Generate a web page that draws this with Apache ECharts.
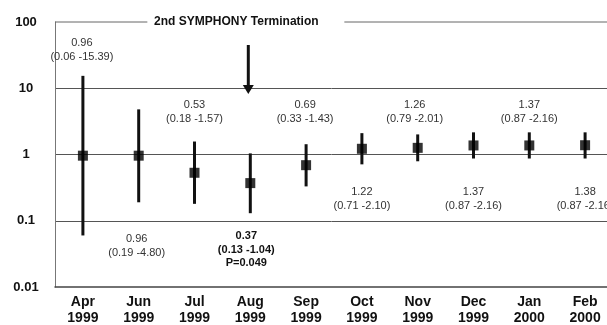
<!DOCTYPE html>
<html><head><meta charset="utf-8">
<script src="https://cdn.jsdelivr.net/npm/echarts@6/dist/echarts.min.js"></script>
<style>html,body{margin:0;padding:0;background:#fff}#c{width:607px;height:325px}</style>
</head><body><div id="c"></div>
<script>
// ---- data ----
const categories = ['Apr\n1999','Jun\n1999','Jul\n1999','Aug\n1999','Sep\n1999','Oct\n1999','Nov\n1999','Dec\n1999','Jan\n2000','Feb\n2000'];
const estimates = [0.96, 0.96, 0.53, 0.37, 0.69, 1.22, 1.26, 1.37, 1.37, 1.38];
const lowerCI   = [0.06, 0.19, 0.18, 0.13, 0.33, 0.71, 0.79, 0.87, 0.87, 0.87];
const upperCI   = [15.39, 4.80, 1.57, 1.04, 1.43, 2.10, 2.01, 2.16, 2.16, 2.16];
const pValues   = [null, null, null, 'P=0.049', null, null, null, null, null, null];
const yTicks = [0.01, 0.1, 1, 10, 100];
const yTickLabels = ['0.01', '0.1', '1', '10', '100'];
const terminationTitle = '2nd SYMPHONY Termination';
const terminationIndex = 3;

// ---- layout (label placement, in data space of the log axis) ----
const labelAnchor = [48.3, 0.0527, 5.65, 0.0585, 5.65, 0.268, 5.65, 0.268, 5.65, 0.268];
const labelDx = [-1, -2, 0, -4, -1, 0, -3, 0, 0, 0];
const arrowSpan = [45, 8.2];
const titleIndexPos = 2.75;

const FONT = '"Liberation Sans", Arial, Helvetica, sans-serif';
const fmt = v => v.toFixed(2);

const chart = echarts.init(document.getElementById('c'), null, {renderer: 'canvas'});

chart.setOption({
  animation: false,
  backgroundColor: '#fff',
  grid: {left: 55, top: 22, bottom: 38, width: 558, outerBoundsMode: 'none', containLabel: false},
  xAxis: {
    type: 'category', data: categories, boundaryGap: true,
    axisTick: {show: false},
    axisLine: {lineStyle: {color: '#444', width: 1.5}},
    axisLabel: {interval: 0, fontSize: 14, fontWeight: 'bold', color: '#111', lineHeight: 16, margin: 7, fontFamily: FONT},
    splitLine: {show: false}
  },
  yAxis: {
    type: 'log', logBase: 10, min: 0.01, max: 100,
    axisLine: {show: true, lineStyle: {color: '#777', width: 1}},
    axisTick: {show: false},
    axisLabel: {
      fontSize: 13, fontWeight: 'bold', color: '#111', align: 'center', margin: 29, fontFamily: FONT,
      formatter: v => {
        let best = 0;
        yTicks.forEach((t, k) => { if (Math.abs(Math.log10(t) - Math.log10(v)) < Math.abs(Math.log10(yTicks[best]) - Math.log10(v))) best = k; });
        return yTickLabels[best];
      }
    },
    splitLine: {show: true, lineStyle: {color: ['transparent', '#555', '#555', '#555', 'transparent'], width: 1}}
  },
  series: [
    {
      type: 'custom', name: 'ci', z: 3,
      data: categories.map((c, i) => [i, lowerCI[i], upperCI[i]]),
      encode: {x: 0, y: [1, 2]},
      renderItem: (params, api) => {
        const i = api.value(0);
        const a = api.coord([i, api.value(2)]);
        const b = api.coord([i, api.value(1)]);
        return {type: 'line', shape: {x1: a[0], y1: a[1], x2: b[0], y2: b[1]}, style: {stroke: '#111', lineWidth: 3}};
      }
    },
    {
      type: 'scatter', name: 'estimate', z: 4,
      data: estimates, symbol: 'rect', symbolSize: 10,
      itemStyle: {color: '#000'}
    },
    {
      type: 'custom', name: 'labels', z: 5, clip: false, silent: true,
      data: categories.map((c, i) => [i, labelAnchor[i]]),
      encode: {x: 0, y: 1},
      renderItem: (params, api) => {
        const i = api.value(0);
        const p = api.coord([i, api.value(1)]);
        const lines = [fmt(estimates[i]), '(' + fmt(lowerCI[i]) + ' -' + fmt(upperCI[i]) + ')'];
        if (pValues[i]) lines.push(pValues[i]);
        const bold = !!pValues[i];
        const lh = bold ? 13.5 : 14;
        return {
          type: 'text',
          style: {
            text: lines.join('\n'), x: p[0] + labelDx[i], y: p[1] - lh / 2,
            align: 'center', verticalAlign: 'top', lineHeight: lh,
            fontSize: 11, fontWeight: bold ? 'bold' : 'normal', fontFamily: FONT, fill: bold ? '#111' : '#333'
          }
        };
      }
    },
    {
      type: 'custom', name: 'arrow', z: 5, clip: false, silent: true,
      data: [[terminationIndex, arrowSpan[0], arrowSpan[1]]],
      encode: {x: 0, y: [1, 2]},
      renderItem: (params, api) => {
        const i = api.value(0);
        const a = api.coord([i, api.value(1)]);
        const b = api.coord([i, api.value(2)]);
        const x = a[0] - 2;
        return {
          type: 'group', children: [
            {type: 'line', shape: {x1: x, y1: a[1], x2: x, y2: b[1] - 8}, style: {stroke: '#111', lineWidth: 3}},
            {type: 'polygon', shape: {points: [[x - 5.5, b[1] - 9], [x + 5.5, b[1] - 9], [x, b[1]]]}, style: {fill: '#111'}}
          ]
        };
      }
    },
    {
      type: 'custom', name: 'bracket', z: 5, clip: false, silent: true,
      data: [[titleIndexPos, 100]],
      encode: {x: 0, y: 1},
      renderItem: (params, api) => {
        const cs = params.coordSys;
        const band = api.size([1, 0])[0];
        const p = api.coord([0, api.value(1)]);
        const cx = p[0] + api.value(0) * band;
        const y = p[1];
        return {
          type: 'group', children: [
            {type: 'line', shape: {x1: cs.x, y1: y, x2: cx - 89, y2: y}, style: {stroke: '#666', lineWidth: 1}},
            {type: 'line', shape: {x1: cx + 108, y1: y, x2: cs.x + cs.width, y2: y}, style: {stroke: '#666', lineWidth: 1}},
            {type: 'text', style: {text: terminationTitle, x: cx, y: y, align: 'center', verticalAlign: 'middle',
              fontSize: 12, fontWeight: 'bold', fontFamily: FONT, fill: '#111'}}
          ]
        };
      }
    }
  ]
});
</script>
</body></html>
